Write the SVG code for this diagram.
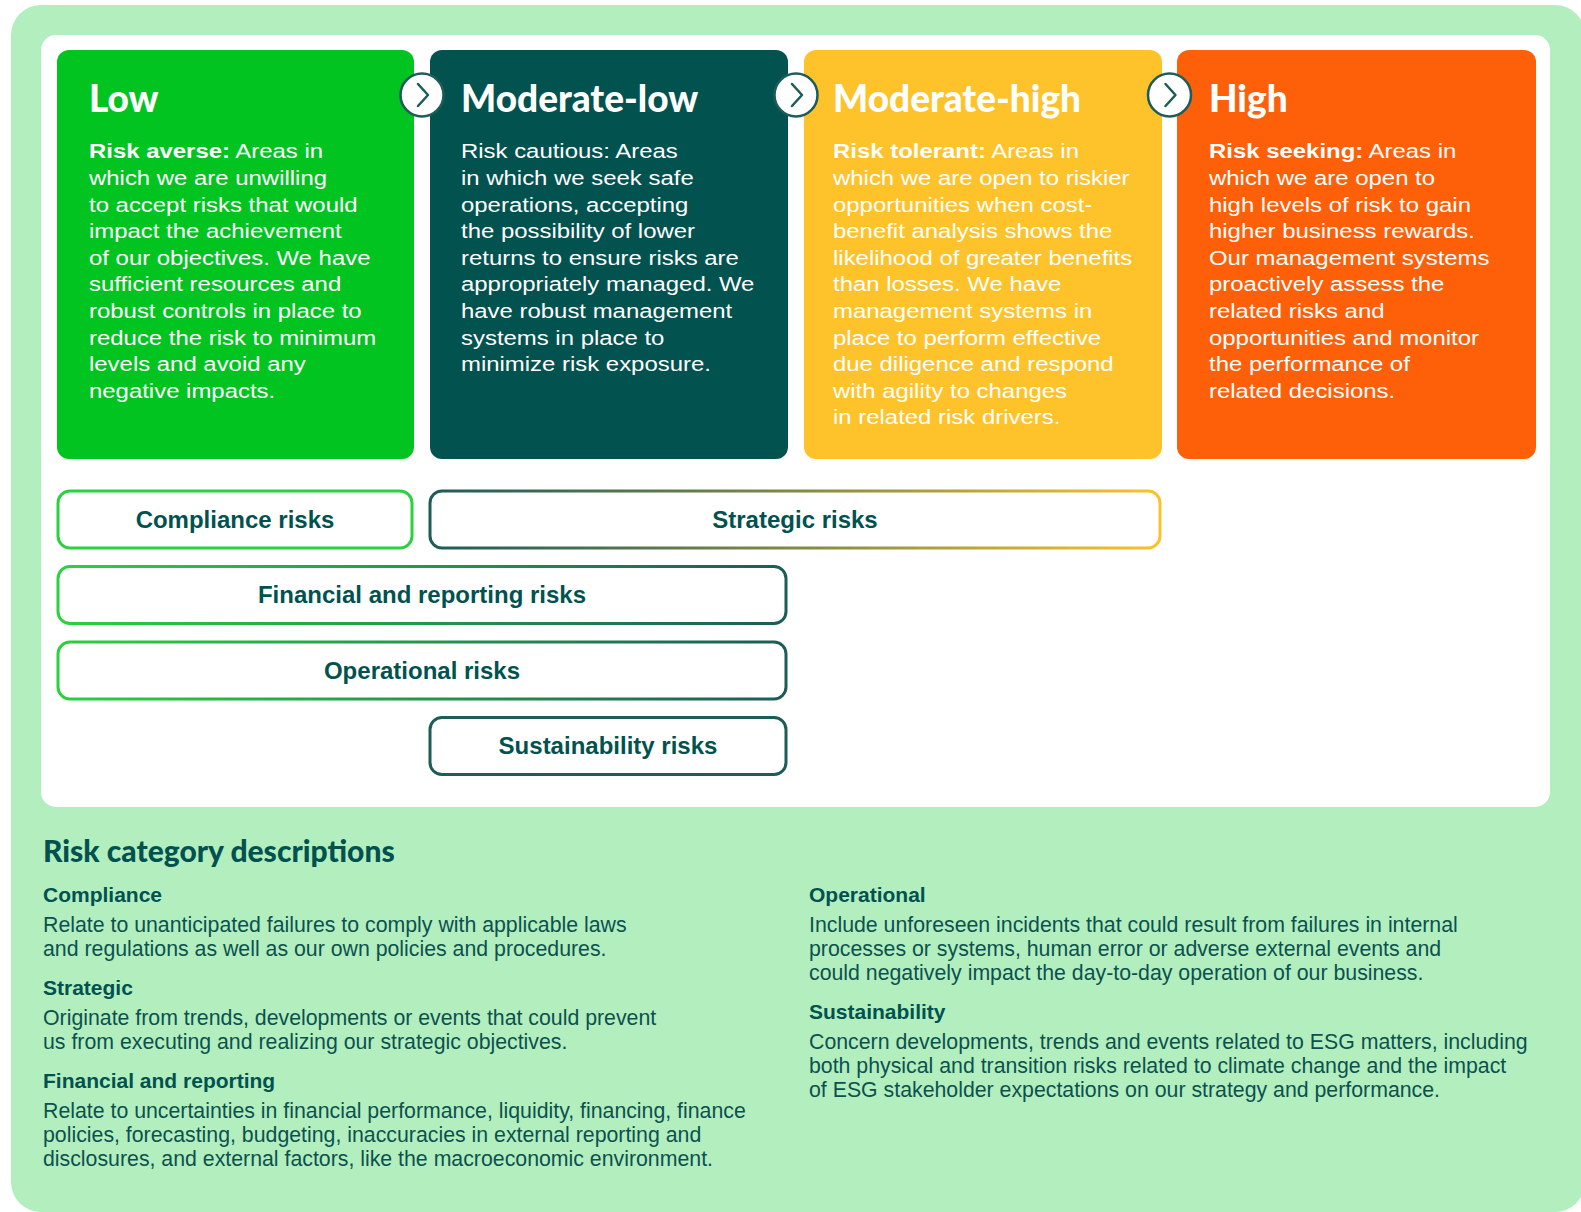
<svg xmlns="http://www.w3.org/2000/svg" width="1581" height="1212" viewBox="0 0 1581 1212">
<defs>
<linearGradient id="gStrat" x1="0" y1="0" x2="1" y2="0"><stop offset="0" stop-color="#1d5c58"/><stop offset="0.5" stop-color="#7f8a45"/><stop offset="1" stop-color="#fdc22a"/></linearGradient>
<linearGradient id="gGreenTeal" x1="0" y1="0" x2="1" y2="0"><stop offset="0" stop-color="#2bd13f"/><stop offset="1" stop-color="#1d5c58"/></linearGradient>
<style>
.title{font-family:Lato,"Noto Sans",sans-serif;font-weight:900;font-size:37px;}
.body{font-family:"Liberation Sans",Arial,sans-serif;font-size:21px;fill:#ffffff;}
.b{font-weight:700;}
.bar{fill:#ffffff;stroke-width:3;}
.barlbl{font-family:"Liberation Sans",Arial,sans-serif;font-weight:700;font-size:24px;fill:#01524f;text-anchor:middle;}
.chev circle{fill:#ffffff;stroke:#1d5c58;stroke-width:2.5;}
.chev path{fill:none;stroke:#1d5c58;stroke-width:2.5;stroke-linecap:round;stroke-linejoin:round;}
.h2{font-family:Lato,"Noto Sans",sans-serif;font-weight:900;font-size:30px;fill:#01524f;}
.dh{font-family:"Liberation Sans",Arial,sans-serif;font-weight:700;font-size:21px;fill:#01524f;}
.dt{font-family:"Liberation Sans",Arial,sans-serif;font-size:21.3px;fill:#0b524e;}
</style>
</defs>
<rect x="11" y="5" width="1574" height="1207" rx="30" fill="#b3eebf"/>
<rect x="41" y="35" width="1509" height="772" rx="15" fill="#ffffff"/>

<g id="card-low">
<rect x="57" y="50" width="357" height="409" rx="12" fill="#02c420"/>
<text class="title" x="89" y="112" fill="#ffffff">Low</text>
<g transform="translate(89,0) scale(1.14,1)">
<text class="body" x="0" y="158.5"><tspan class="b">Risk averse:</tspan> Areas in<tspan x="0" dy="26.6">which we are unwilling</tspan><tspan x="0" dy="26.6">to accept risks that would</tspan><tspan x="0" dy="26.6">impact the achievement</tspan><tspan x="0" dy="26.6">of our objectives. We have</tspan><tspan x="0" dy="26.6">sufficient resources and</tspan><tspan x="0" dy="26.6">robust controls in place to</tspan><tspan x="0" dy="26.6">reduce the risk to minimum</tspan><tspan x="0" dy="26.6">levels and avoid any</tspan><tspan x="0" dy="26.6">negative impacts.</tspan></text>
</g>
</g>

<g id="card-moderate-low">
<rect x="430" y="50" width="358" height="409" rx="12" fill="#02524f"/>
<text class="title" x="461" y="112" fill="#ffffff">Moderate-low</text>
<g transform="translate(461,0) scale(1.14,1)">
<text class="body" x="0" y="158.5">Risk cautious: Areas<tspan x="0" dy="26.6">in which we seek safe</tspan><tspan x="0" dy="26.6">operations, accepting</tspan><tspan x="0" dy="26.6">the possibility of lower</tspan><tspan x="0" dy="26.6">returns to ensure risks are</tspan><tspan x="0" dy="26.6">appropriately managed. We</tspan><tspan x="0" dy="26.6">have robust management</tspan><tspan x="0" dy="26.6">systems in place to</tspan><tspan x="0" dy="26.6">minimize risk exposure.</tspan></text>
</g>
</g>

<g id="card-moderate-high">
<rect x="804" y="50" width="358" height="409" rx="12" fill="#fec32b"/>
<text class="title" x="833" y="112" fill="#ffffff">Moderate-high</text>
<g transform="translate(833,0) scale(1.14,1)">
<text class="body" x="0" y="158.5"><tspan class="b">Risk tolerant:</tspan> Areas in<tspan x="0" dy="26.6">which we are open to riskier</tspan><tspan x="0" dy="26.6">opportunities when cost-</tspan><tspan x="0" dy="26.6">benefit analysis shows the</tspan><tspan x="0" dy="26.6">likelihood of greater benefits</tspan><tspan x="0" dy="26.6">than losses. We have</tspan><tspan x="0" dy="26.6">management systems in</tspan><tspan x="0" dy="26.6">place to perform effective</tspan><tspan x="0" dy="26.6">due diligence and respond</tspan><tspan x="0" dy="26.6">with agility to changes</tspan><tspan x="0" dy="26.6">in related risk drivers.</tspan></text>
</g>
</g>

<g id="card-high">
<rect x="1177" y="50" width="359" height="409" rx="12" fill="#fe5f09"/>
<text class="title" x="1209" y="112" fill="#ffffff">High</text>
<g transform="translate(1209,0) scale(1.14,1)">
<text class="body" x="0" y="158.5"><tspan class="b">Risk seeking:</tspan> Areas in<tspan x="0" dy="26.6">which we are open to</tspan><tspan x="0" dy="26.6">high levels of risk to gain</tspan><tspan x="0" dy="26.6">higher business rewards.</tspan><tspan x="0" dy="26.6">Our management systems</tspan><tspan x="0" dy="26.6">proactively assess the</tspan><tspan x="0" dy="26.6">related risks and</tspan><tspan x="0" dy="26.6">opportunities and monitor</tspan><tspan x="0" dy="26.6">the performance of</tspan><tspan x="0" dy="26.6">related decisions.</tspan></text>
</g>
</g>

<g id="connectors">
<g class="chev" transform="translate(422,95)"><circle r="21.5"/><path d="M-4,-11 L6,0 L-4,11"/></g>
<g class="chev" transform="translate(796,95)"><circle r="21.5"/><path d="M-4,-11 L6,0 L-4,11"/></g>
<g class="chev" transform="translate(1169.5,95)"><circle r="21.5"/><path d="M-4,-11 L6,0 L-4,11"/></g>
</g>

<g id="bar-compliance">
<rect class="bar" x="58" y="491" width="354" height="57" rx="12" stroke="#2bd13f"/>
<text class="barlbl" x="235" y="527.5">Compliance risks</text>
</g>
<g id="bar-strategic">
<rect class="bar" x="430" y="491" width="730" height="57" rx="12" stroke="url(#gStrat)"/>
<text class="barlbl" x="795" y="527.5">Strategic risks</text>
</g>
<g id="bar-financial">
<rect class="bar" x="58" y="566.5" width="728" height="57" rx="12" stroke="url(#gGreenTeal)"/>
<text class="barlbl" x="422" y="603">Financial and reporting risks</text>
</g>
<g id="bar-operational">
<rect class="bar" x="58" y="642" width="728" height="57" rx="12" stroke="url(#gGreenTeal)"/>
<text class="barlbl" x="422" y="678.5">Operational risks</text>
</g>
<g id="bar-sustainability">
<rect class="bar" x="430" y="717.5" width="356" height="57" rx="12" stroke="#1d5c58"/>
<text class="barlbl" x="608" y="754">Sustainability risks</text>
</g>

<g id="descriptions">
<text class="h2" x="43" y="862">Risk category descriptions</text>
<text class="dh" x="43" y="902">Compliance</text>
<text class="dt" x="43" y="932">Relate to unanticipated failures to comply with applicable laws<tspan x="43" dy="24.2">and regulations as well as our own policies and procedures.</tspan></text>
<text class="dh" x="43" y="995">Strategic</text>
<text class="dt" x="43" y="1025">Originate from trends, developments or events that could prevent<tspan x="43" dy="24.2">us from executing and realizing our strategic objectives.</tspan></text>
<text class="dh" x="43" y="1088">Financial and reporting</text>
<text class="dt" x="43" y="1118">Relate to uncertainties in financial performance, liquidity, financing, finance<tspan x="43" dy="24.2">policies, forecasting, budgeting, inaccuracies in external reporting and</tspan><tspan x="43" dy="24.2">disclosures, and external factors, like the macroeconomic environment.</tspan></text>
<text class="dh" x="809" y="902">Operational</text>
<text class="dt" x="809" y="932">Include unforeseen incidents that could result from failures in internal<tspan x="809" dy="24.2">processes or systems, human error or adverse external events and</tspan><tspan x="809" dy="24.2">could negatively impact the day-to-day operation of our business.</tspan></text>
<text class="dh" x="809" y="1019">Sustainability</text>
<text class="dt" x="809" y="1049">Concern developments, trends and events related to ESG matters, including<tspan x="809" dy="24.2">both physical and transition risks related to climate change and the impact</tspan><tspan x="809" dy="24.2">of ESG stakeholder expectations on our strategy and performance.</tspan></text>
</g>
</svg>
